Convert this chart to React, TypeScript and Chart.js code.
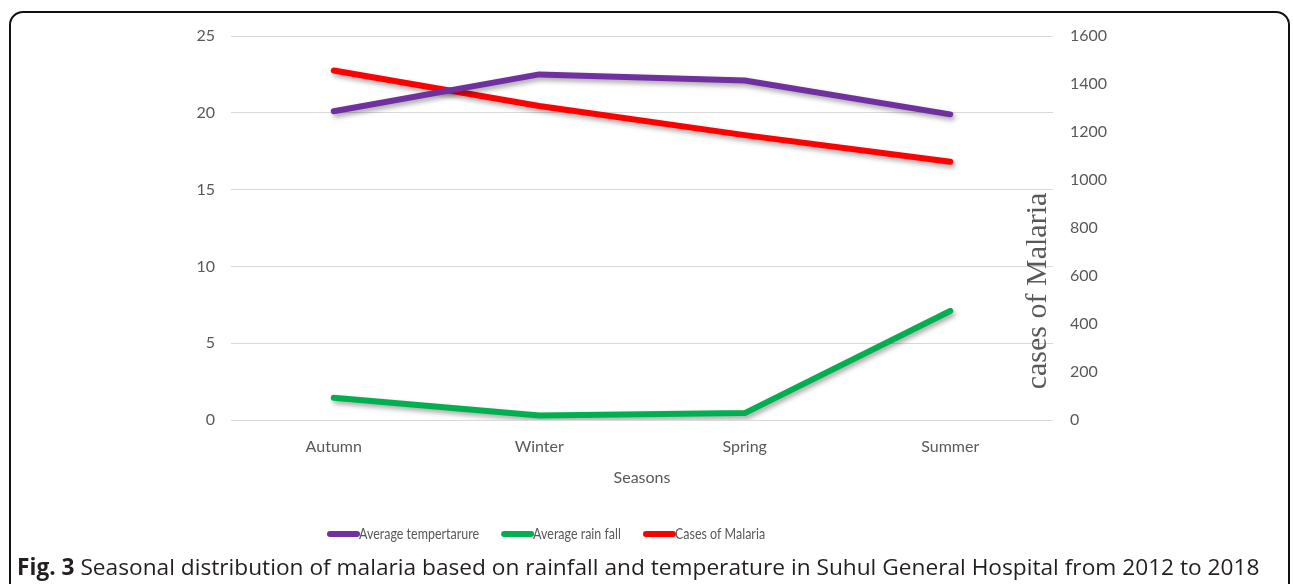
import React, { useEffect, useRef } from "react";
import { Chart, registerables } from "chart.js";

Chart.register(...registerables);

const seasons = ["Autumn", "Winter", "Spring", "Summer"];
const avgTemperature = [20.1, 22.5, 22.1, 19.9];
const avgRainfall = [1.45, 0.3, 0.45, 7.1];
const malariaCases = [1456, 1308, 1187, 1076];
const leftTicks = [0, 5, 10, 15, 20, 25];
const rightTicks = [0, 200, 400, 600, 800, 1000, 1200, 1400, 1600];

const seriesNames = ["Average tempertarure", "Average rain fall", "Cases of Malaria"];
const seriesColors = ["#7030A0", "#00B050", "#FF0000"];

const TICK_FONT = "Lato, 'Open Sans', sans-serif";

const shadowPlugin = {
  id: "lineShadow",
  beforeDatasetDraw(chart: any) {
    const ctx = chart.ctx;
    ctx.save();
    ctx.shadowColor = "rgba(0,0,0,0.35)";
    ctx.shadowBlur = 5;
    ctx.shadowOffsetX = 2;
    ctx.shadowOffsetY = 3;
  },
  afterDatasetDraw(chart: any) {
    chart.ctx.restore();
  },
};

const extrasPlugin = {
  id: "extras",
  afterDraw(chart: any) {
    const ctx = chart.ctx;
    // right axis title
    ctx.save();
    ctx.translate(1038, 291);
    ctx.rotate(-Math.PI / 2);
    ctx.font = "30px 'Liberation Serif', 'DejaVu Serif', serif";
    ctx.fillStyle = "#595959";
    ctx.textAlign = "center";
    ctx.textBaseline = "middle";
    ctx.fillText("cases of Malaria", 0, 0);
    ctx.restore();

    // legend
    ctx.save();
    ctx.font = `16px ${TICK_FONT}`;
    ctx.textBaseline = "middle";
    ctx.textAlign = "left";
    const squeeze = 0.78;
    let x = 330;
    const y = 534;
    seriesNames.forEach((name, i) => {
      ctx.strokeStyle = seriesColors[i];
      ctx.lineWidth = 6;
      ctx.lineCap = "round";
      ctx.beginPath();
      ctx.moveTo(x, y);
      ctx.lineTo(x + 27, y);
      ctx.stroke();
      x += 29;
      ctx.fillStyle = "#595959";
      ctx.save();
      ctx.translate(x, y);
      ctx.scale(squeeze, 1);
      ctx.fillText(name, 0, 0);
      ctx.restore();
      x += ctx.measureText(name).width * squeeze + 25;
    });
    ctx.restore();
  },
};

export default function App() {
  const canvasRef = useRef<HTMLCanvasElement | null>(null);

  useEffect(() => {
    if (!canvasRef.current) return;
    const chart = new Chart(canvasRef.current, {
      type: "line",
      data: {
        labels: seasons,
        datasets: [
          {
            label: seriesNames[0],
            data: avgTemperature,
            borderColor: seriesColors[0],
            backgroundColor: seriesColors[0],
            yAxisID: "y",
          },
          {
            label: seriesNames[1],
            data: avgRainfall,
            borderColor: seriesColors[1],
            backgroundColor: seriesColors[1],
            yAxisID: "y",
          },
          {
            label: seriesNames[2],
            data: malariaCases,
            borderColor: seriesColors[2],
            backgroundColor: seriesColors[2],
            yAxisID: "y1",
          },
        ],
      },
      plugins: [shadowPlugin, extrasPlugin],
      options: {
        animation: false,
        responsive: false,
        maintainAspectRatio: false,
        layout: { padding: { top: 36, left: 0, right: 0, bottom: 0 } },
        elements: {
          line: {
            borderWidth: 6,
            tension: 0,
            borderCapStyle: "round",
            borderJoinStyle: "round",
          },
          point: { radius: 0, hoverRadius: 0 },
        },
        plugins: {
          legend: { display: false },
          tooltip: { enabled: false },
        },
        scales: {
          x: {
            type: "category",
            offset: true,
            grid: { display: false, drawTicks: false },
            border: { display: false },
            ticks: {
              color: "#595959",
              font: { family: TICK_FONT, size: 16 },
              padding: 17,
              maxRotation: 0,
            },
            title: {
              display: true,
              text: "Seasons",
              color: "#595959",
              font: { family: TICK_FONT, size: 16 },
              padding: { top: 0, bottom: 97 },
            },
            afterFit(scale: any) {
              scale.height = 164;
            },
          },
          y: {
            position: "left",
            min: 0,
            max: 25,
            afterBuildTicks(scale: any) {
              scale.ticks = leftTicks.map((v) => ({ value: v }));
            },
            grid: { color: "#d9d9d9", lineWidth: 1, drawTicks: false },
            border: { display: false },
            ticks: {
              color: "#595959",
              font: { family: TICK_FONT, size: 16 },
              padding: 16,
              callback: (v: any) => String(v),
            },
            afterFit(scale: any) {
              scale.width = 231;
            },
          },
          y1: {
            position: "right",
            min: 0,
            max: 1600,
            afterBuildTicks(scale: any) {
              scale.ticks = rightTicks.map((v) => ({ value: v }));
            },
            grid: { drawOnChartArea: false, drawTicks: false },
            border: { display: false },
            ticks: {
              color: "#595959",
              font: { family: TICK_FONT, size: 16 },
              padding: 17,
              callback: (v: any) => String(v),
            },
            afterFit(scale: any) {
              scale.width = 240;
            },
          },
        },
      },
    });
    return () => chart.destroy();
  }, []);

  return (
    <div
      style={{
        position: "fixed",
        left: 0,
        top: 0,
        width: 1293,
        height: 584,
        overflow: "hidden",
        background: "#fff",
      }}
    >
      <div
        style={{
          position: "absolute",
          left: 9,
          top: 11,
          width: 1281,
          height: 620,
          border: "2px solid #111",
          borderRadius: 14,
          boxSizing: "border-box",
        }}
      />
      <canvas
        ref={canvasRef}
        width={1293}
        height={584}
        style={{ position: "absolute", left: 0, top: 0, width: 1293, height: 584 }}
      />
      <div
        style={{
          position: "absolute",
          left: 17,
          top: 553,
          fontFamily: "'Open Sans', sans-serif",
          fontSize: 22.7,
          color: "#231f20",
          whiteSpace: "nowrap",
          lineHeight: "28px",
        }}
      >
        <b>Fig. 3</b> Seasonal distribution of malaria based on rainfall and temperature in Suhul General Hospital from 2012 to 2018
      </div>
    </div>
  );
}
